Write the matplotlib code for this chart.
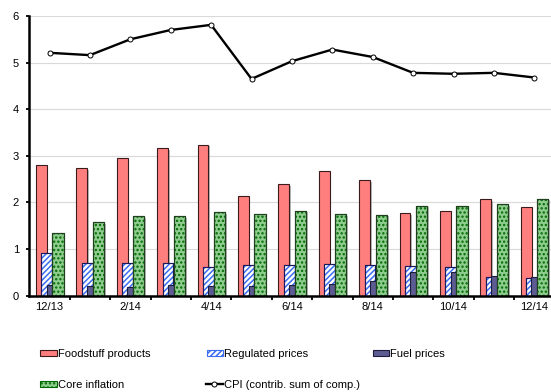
import numpy as np
import matplotlib
matplotlib.use("Agg")
import matplotlib.pyplot as plt
import matplotlib.patheffects as pe
from matplotlib.patches import Patch
from matplotlib.lines import Line2D

plt.rcParams['font.family'] = ['Liberation Sans', 'DejaVu Sans']
plt.rcParams['font.size'] = 8
plt.rcParams['hatch.linewidth'] = 1.1

# ---------------- data ----------------
months = ["12/13", "1/14", "2/14", "3/14", "4/14", "5/14", "6/14",
          "7/14", "8/14", "9/14", "10/14", "11/14", "12/14"]
foodstuff = [2.80, 2.74, 2.95, 3.16, 3.24, 2.14, 2.39, 2.67, 2.48,
             1.77, 1.81, 2.07, 1.90]
regulated = [0.91, 0.69, 0.71, 0.69, 0.61, 0.65, 0.66, 0.68, 0.65,
             0.63, 0.61, 0.40, 0.38]
fuel = [0.23, 0.21, 0.19, 0.23, 0.20, 0.20, 0.22, 0.24, 0.31,
        0.50, 0.50, 0.42, 0.41]
core = [1.34, 1.58, 1.70, 1.70, 1.79, 1.75, 1.82, 1.75, 1.74,
        1.93, 1.92, 1.96, 2.08]
cpi = [5.21, 5.16, 5.50, 5.70, 5.81, 4.65, 5.03, 5.28, 5.12,
       4.78, 4.76, 4.78, 4.68]

x = np.arange(len(months))
shadow = [pe.SimplePatchShadow(offset=(1.2, -1.2), shadow_rgbFace='0.55',
                               alpha=0.6), pe.Normal()]

fig = plt.figure(figsize=(5.51, 3.92), dpi=100)
ax = fig.add_axes((0.0532, 0.2459, 0.9532, 0.7133))

# foodstuff
ax.bar(x - 0.20, foodstuff, 0.265, color='#ff7f7f', edgecolor='#3a1a1a',
       linewidth=0.8, zorder=2, path_effects=shadow)
# regulated: white base + blue stripes
ax.bar(x - 0.067, regulated, 0.27, color='white', edgecolor='#1a1a5a',
       linewidth=0.8, zorder=3, path_effects=shadow)
ax.bar(x - 0.067, regulated, 0.27, fill=False, hatch='//////',
       edgecolor='#3b6cf2', linewidth=0, zorder=3.1)
ax.bar(x - 0.067, regulated, 0.27, fill=False, edgecolor='#1a1a5a',
       linewidth=0.8, zorder=3.2)
# fuel
ax.bar(x, fuel, 0.14, color='#5c5c92', edgecolor='#1c1c3c',
       linewidth=0.8, zorder=4, path_effects=shadow)
# core inflation: green base + dark green dots
ax.bar(x + 0.21, core, 0.28, color='#8fcc8f', edgecolor='#1f3f1f',
       linewidth=0.8, zorder=5, path_effects=shadow)
ax.bar(x + 0.21, core, 0.28, fill=False, hatch='....',
       edgecolor='#006a00', linewidth=0, zorder=5.1)
ax.bar(x + 0.21, core, 0.28, fill=False, edgecolor='#1f3f1f',
       linewidth=0.8, zorder=5.2)
# CPI
ax.plot(x, cpi, color='black', linewidth=1.7, marker='o', markersize=3.6,
        markerfacecolor='white', markeredgecolor='black',
        markeredgewidth=0.7, zorder=6)

ax.set_xlim(-0.5, len(months) - 0.5)
ax.set_ylim(0, 6)
ax.set_yticks(range(7))
ax.yaxis.grid(True, color='#d9d9d9', linewidth=0.8, zorder=0)
ax.set_axisbelow(True)

ax.set_xticks(x[:-1] + 0.5)
ax.set_xticklabels([])
ax.set_xticks(x[::2], minor=True)
ax.set_xticklabels(months[::2], minor=True)
ax.tick_params(axis='x', which='major', length=3, width=1.3, direction='out')
ax.tick_params(axis='x', which='minor', length=0, pad=4.5)
ax.tick_params(axis='y', length=2.5, width=1.3, direction='out', pad=5)

for s in ['top', 'right']:
    ax.spines[s].set_visible(False)
for s in ['left', 'bottom']:
    ax.spines[s].set_linewidth(1.8)
    ax.spines[s].set_zorder(7)

# legend: one small legend per entry so positions match the reference
entries = [
    (Patch(facecolor='#ff7f7f', edgecolor='#3a1a1a', linewidth=0.8),
     "Foodstuff products", 40, 354),
    (Patch(facecolor='white', edgecolor='#3b6cf2', hatch='//////',
           linewidth=0.8), "Regulated prices", 206.5, 354),
    (Patch(facecolor='#5c5c92', edgecolor='#1c1c3c', linewidth=0.8),
     "Fuel prices", 372.5, 354),
    (Patch(facecolor='#8fcc8f', edgecolor='#006a00', hatch='....',
           linewidth=0.8), "Core inflation", 40, 385),
    (Line2D([], [], color='black', linewidth=1.7, marker='o',
            markersize=3.6, markerfacecolor='white', markeredgewidth=0.7),
     "CPI (contrib. sum of comp.)", 206, 385),
]
for handle, label, px, py in entries:
    fig.legend([handle], [label], loc='center left',
               bbox_to_anchor=(px / 551, 1 - py / 392), frameon=False,
               borderpad=0, borderaxespad=0, handlelength=1.5,
               handleheight=0.5, handletextpad=0.1, fontsize=8)

fig.savefig("out.png", dpi=100)
